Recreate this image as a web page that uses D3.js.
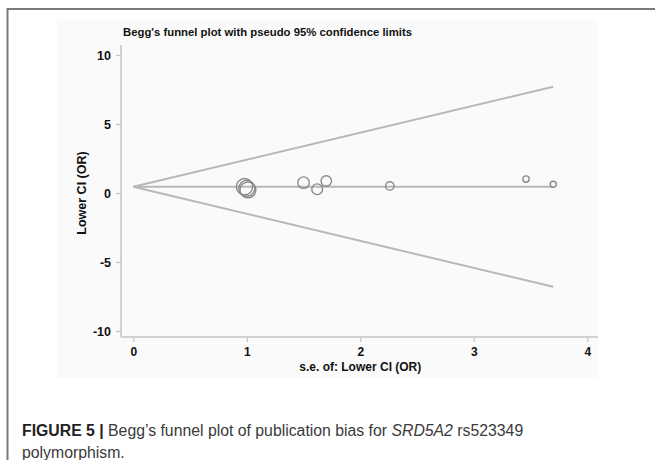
<!DOCTYPE html>
<html>
<head>
<meta charset="utf-8">
<script src="https://cdn.jsdelivr.net/npm/d3@7"></script>
<style>
  html, body { margin: 0; padding: 0; background: #fff; }
  svg { display: block; }
</style>
</head>
<body>
<svg id="chart" width="655" height="460"></svg>
<script>
// ---- data ----
const studySE = [0.98, 1.01, 1.00, 1.50, 1.62, 1.70, 2.26, 3.46, 3.70];
const studyLowerCI = [0.46, 0.22, 0.34, 0.75, 0.27, 0.87, 0.51, 1.01, 0.63];
const funnelSE = [0, 3.70];
const upperLimit = [0.45, 7.70];
const lowerLimit = [0.45, -6.80];
const pooledLine = [0.45, 0.45];
const xTicks = [0, 1, 2, 3, 4];
const yTicks = [-10, -5, 0, 5, 10];
const yTickLabels = ["-10", "-5", "0", "5", "10"];
const chartTitle = "Begg's funnel plot with pseudo 95% confidence limits";
const xTitle = "s.e. of: Lower CI (OR)";
const yTitle = "Lower CI (OR)";

const svg = d3.select("#chart");

// figure frame
svg.append("path")
  .attr("d", "M7.5,460 L7.5,9 L655,9")
  .attr("fill", "none").attr("stroke", "#7a7a7a").attr("stroke-width", 2);

// faint chart image background
svg.append("rect").attr("x", 57).attr("y", 20).attr("width", 541).attr("height", 358)
  .attr("fill", "#fafafa");

const x = d3.scaleLinear().domain([0, 4]).range([133.3, 587.3]);
const y = d3.scaleLinear().domain([-10, 10]).range([331, 55]);
const r = d3.scaleSqrt().domain([0, 1]).range([1.2, 8]);

const axisColor = "#c4c4c4";
const font = "Liberation Sans, Arial, sans-serif";

// y axis
const yAxis = d3.axisLeft(y).tickValues(yTicks).tickSize(5).tickPadding(5)
  .tickFormat((d, i) => yTickLabels[i]);
const gy = svg.append("g").attr("transform", "translate(121,0)").call(yAxis);
gy.select(".domain").remove();
gy.append("line").attr("x1", 0).attr("x2", 0).attr("y1", 45).attr("y2", 337).attr("stroke", axisColor).attr("stroke-width", 1.5);
gy.selectAll(".tick line").attr("stroke", axisColor).attr("stroke-width", 1.2);
gy.selectAll(".tick text").attr("fill", "#111").attr("font-family", font).attr("font-weight", "bold").attr("font-size", 12.5);

// x axis
const xAxis = d3.axisBottom(x).tickValues(xTicks).tickSize(5).tickPadding(5).tickFormat(d3.format("d"));
const gx = svg.append("g").attr("transform", "translate(0,337)").call(xAxis);
gx.select(".domain").remove();
gx.append("line").attr("x1", 121).attr("x2", 598).attr("y1", 0).attr("y2", 0).attr("stroke", axisColor).attr("stroke-width", 1.5);
gx.selectAll(".tick line").attr("stroke", axisColor).attr("stroke-width", 1.2);
gx.selectAll(".tick text").attr("fill", "#111").attr("font-family", font).attr("font-weight", "bold").attr("font-size", 12);

// titles
svg.append("text").attr("x", 123).attr("y", 36).text(chartTitle)
  .attr("font-family", font).attr("font-weight", "bold").attr("font-size", 11.5)
  .attr("fill", "#111").attr("textLength", 289).attr("lengthAdjust", "spacingAndGlyphs");
svg.append("text").attr("x", x(2)).attr("y", 371).attr("text-anchor", "middle").text(xTitle)
  .attr("font-family", font).attr("font-weight", "bold").attr("font-size", 12).attr("fill", "#111");
svg.append("text").attr("transform", `translate(86,${y(0)}) rotate(-90)`).attr("text-anchor", "middle").text(yTitle)
  .attr("font-family", font).attr("font-weight", "bold").attr("font-size", 12.5).attr("fill", "#111");

// funnel lines
const line = d3.line().x(d => x(d[0])).y(d => y(d[1]));
[upperLimit, lowerLimit, pooledLine].forEach(arr => {
  svg.append("path").datum(d3.zip(funnelSE, arr)).attr("d", line)
    .attr("fill", "none").attr("stroke", "#b8b8b8").attr("stroke-width", 2);
});

// study circles
svg.append("g").selectAll("circle").data(d3.zip(studySE, studyLowerCI)).join("circle")
  .attr("cx", d => x(d[0])).attr("cy", d => y(d[1]))
  .attr("r", d => r(1 / (d[0] * d[0])))
  .attr("fill", "none").attr("stroke", "#8a8a8a").attr("stroke-width", 1.4);

// caption
const cap = svg.append("text").attr("x", 22).attr("y", 436)
  .attr("font-family", "Liberation Sans, Arial, sans-serif").attr("font-size", 15.8).attr("fill", "#3a3a3a");
cap.append("tspan").attr("font-weight", "bold").attr("fill", "#222").text("FIGURE 5 | ");
cap.append("tspan").text("Begg’s funnel plot of publication bias for ");
cap.append("tspan").attr("font-style", "italic").text("SRD5A2");
cap.append("tspan").text(" rs523349");
svg.append("text").attr("x", 22).attr("y", 458)
  .attr("font-family", "Liberation Sans, Arial, sans-serif").attr("font-size", 15.8).attr("fill", "#3a3a3a")
  .text("polymorphism.");
</script>
</body>
</html>
